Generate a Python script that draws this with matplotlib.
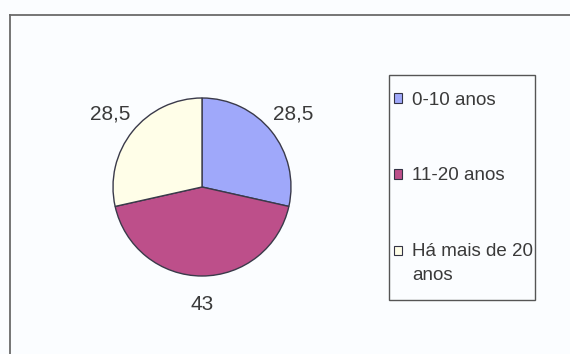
import matplotlib
matplotlib.use("Agg")
import matplotlib.pyplot as plt
from matplotlib.patches import Rectangle, Patch
from matplotlib.lines import Line2D
import numpy as np

categories = ["0-10 anos", "11-20 anos", "Há mais de 20\nanos"]
values = [28.5, 43, 28.5]
value_labels = ["28,5", "43", "28,5"]
colors = ["#9fa8fa", "#bd4f8a", "#fffee8"]

W, H = 570, 354
plt.rcParams['font.family'] = ['Liberation Sans', 'DejaVu Sans']
fig = plt.figure(figsize=(W / 100, H / 100), dpi=100)
fig.patch.set_facecolor("#fbfdff")

def fx(px):
    return px / W

def fy(py):
    return 1 - py / H

# outer chart frame (left and top visible)
fig.add_artist(Line2D([fx(10), fx(10)], [fy(15), 0], color="#6a6a6a", lw=1.3, transform=fig.transFigure))
fig.add_artist(Line2D([fx(10), 1], [fy(15), fy(15)], color="#6a6a6a", lw=1.3, transform=fig.transFigure))

# pie axes
cx, cy, r = 202, 187, 89
ax = fig.add_axes([fx(cx - r), fy(cy + r), 2 * r / W, 2 * r / H])
wedges, texts = ax.pie(values, colors=colors, startangle=90, counterclock=False,
                       labels=value_labels, labeldistance=1.32,
                       wedgeprops=dict(edgecolor="#3a3a4a", linewidth=1.0),
                       textprops=dict(fontsize=15, color="#3a3a3a"))
for t in texts:
    t.set_ha("center")
    t.set_va("center")
ax.set_xlim(-1, 1)
ax.set_ylim(-1, 1)
ax.set_aspect("equal")
ax.axis("off")

# legend box
fig.add_artist(Rectangle((fx(389), fy(300)), (535 - 389) / W, (300 - 75) / H,
                         transform=fig.transFigure, facecolor="none",
                         edgecolor="#555555", lw=1.0))
handles = [Patch(facecolor=c, edgecolor="#333344", lw=0.8) for c in colors]
leg = fig.legend(handles, categories, loc="upper left",
                 bbox_to_anchor=(fx(394), fy(92)), frameon=False,
                 fontsize=13.5, handlelength=0.42, handleheight=0.42,
                 handletextpad=0.55, labelspacing=3.12, borderpad=0,
                 borderaxespad=0)
for t in leg.get_texts():
    t.set_color("#3a3a3a")
    t.set_linespacing(1.5)
# align the last marker with the first line of its two-line label
h = leg.legend_handles[2]
h.set_y(h.get_y() + 9)

fig.savefig("out.png", dpi=100, facecolor=fig.get_facecolor())
